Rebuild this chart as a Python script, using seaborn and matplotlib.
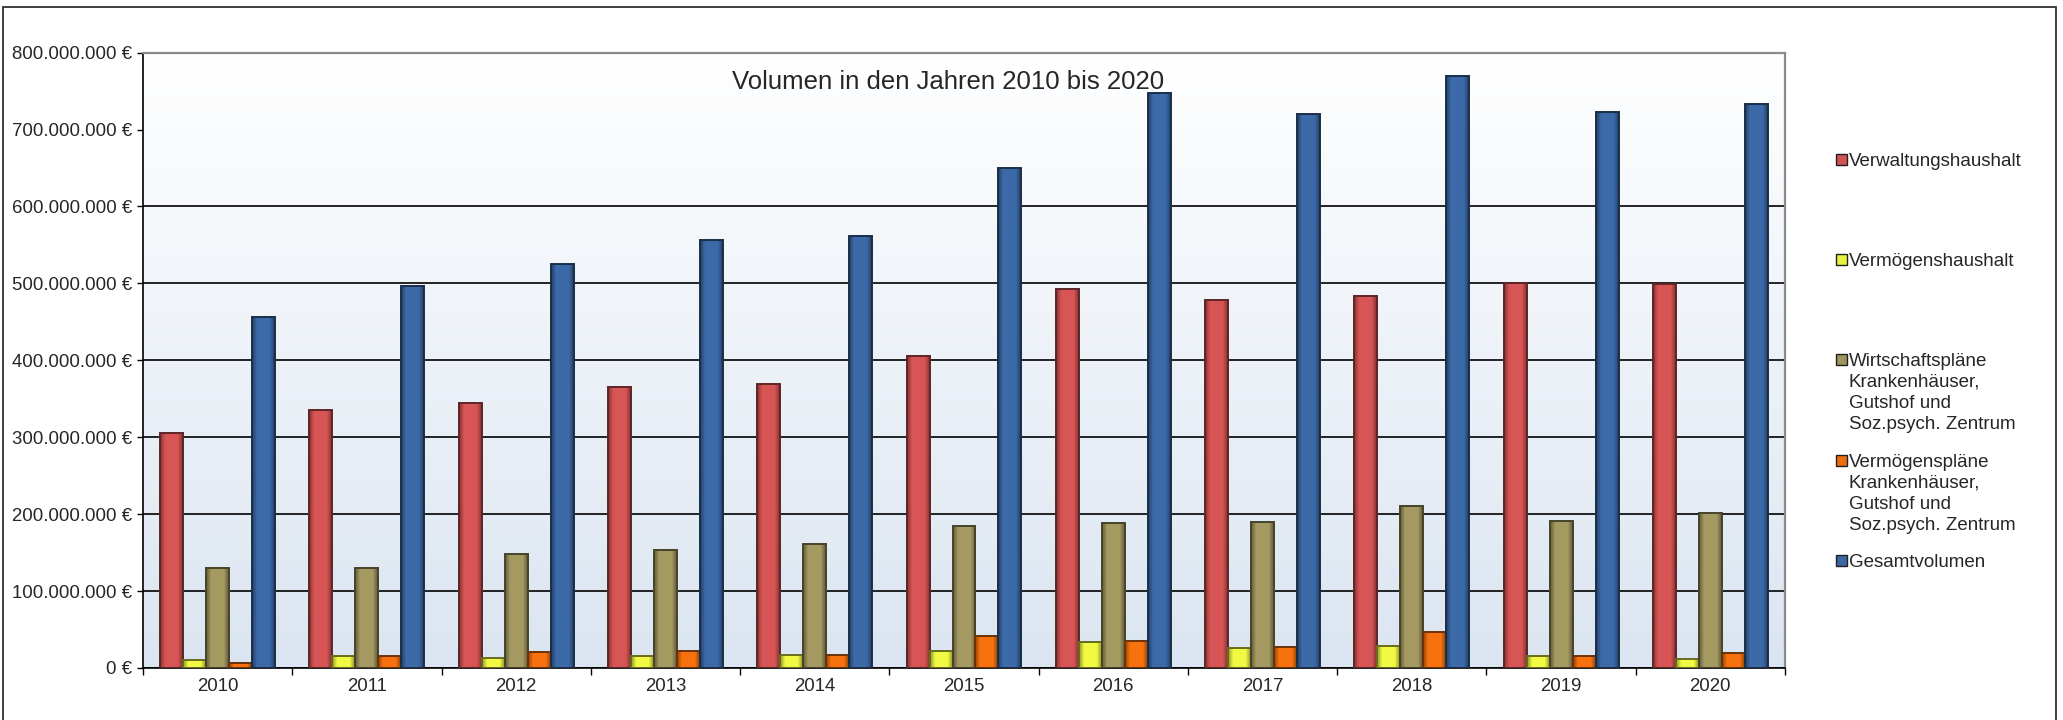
import numpy as np
import pandas as pd
import seaborn as sns
import matplotlib.pyplot as plt
from matplotlib.patches import Rectangle
from matplotlib.ticker import FuncFormatter, MultipleLocator
import matplotlib.colors as mcolors

# ---------------------------------------------------------------
# Daten (Mio. €)
# ---------------------------------------------------------------
jahre = ["2010", "2011", "2012", "2013", "2014", "2015", "2016", "2017", "2018", "2019", "2020"]

verwaltungshaushalt = [306, 336, 344, 365, 369, 405, 493, 478, 484, 501, 499]
vermoegenshaushalt = [11, 16, 13, 16, 17, 22, 34, 26, 29, 16, 12]
wirtschaftsplaene = [130, 130, 148, 153, 161, 184, 188, 190, 210, 191, 202]
vermoegensplaene = [7, 15, 21, 22, 17, 41, 35, 27, 47, 15, 20]
gesamtvolumen = [456, 496, 525, 557, 562, 650, 748, 720, 769, 723, 733]

serien = [
    "Verwaltungshaushalt",
    "Vermögenshaushalt",
    "Wirtschaftspläne\nKrankenhäuser,\nGutshof und\nSoz.psych. Zentrum",
    "Vermögenspläne\nKrankenhäuser,\nGutshof und\nSoz.psych. Zentrum",
    "Gesamtvolumen",
]
farben = ["#d05252", "#e8f040", "#9e945e", "#ee6e0e", "#3a66a2"]

werte = [verwaltungshaushalt, vermoegenshaushalt, wirtschaftsplaene,
         vermoegensplaene, gesamtvolumen]

df = pd.DataFrame({
    "Jahr": np.tile(jahre, len(serien)),
    "Serie": np.repeat(serien, len(jahre)),
    "Volumen": np.concatenate([np.array(w, dtype=float) * 1e6 for w in werte]),
})

# ---------------------------------------------------------------
# Plot
# ---------------------------------------------------------------
sns.set_style("white")
plt.rcParams["font.family"] = ["Liberation Sans", "DejaVu Sans"]

W, H = 2063, 720
fig = plt.figure(figsize=(W / 100, H / 100), dpi=100)
ax = fig.add_axes([143 / W, 1 - 668 / H, (1785 - 143) / W, (668 - 52.6) / H])

# Hintergrund-Verlauf
grad = np.linspace(0, 1, 256).reshape(-1, 1)
cmap = mcolors.LinearSegmentedColormap.from_list("bg", ["#ffffff", "#dbe5f1"])
ax.imshow(grad, cmap=cmap, aspect="auto", extent=[0, 1, 0, 1],
          transform=ax.transAxes, zorder=-10)

sns.barplot(data=df, x="Jahr", y="Volumen", hue="Serie", hue_order=serien,
            palette=farben, width=0.77, gap=0, legend=False, ax=ax,
            saturation=1, zorder=2)

# Balken mit leichtem Relief (dunkle Seiten, helle Mitte)
t = np.linspace(0, 1, 60)
profil = 0.62 + 0.42 * np.clip(np.minimum(t, 1 - t) / 0.22, 0, 1)
for cont, f in zip(ax.containers, farben):
    basis = np.array(mcolors.to_rgb(f))
    dunkel = tuple(basis * 0.45)
    img = np.clip(basis[None, None, :] * profil[None, :, None], 0, 1)
    for bar in cont:
        x0, y0 = bar.get_x(), bar.get_y()
        w, h = bar.get_width(), bar.get_height()
        im = ax.imshow(img, extent=[x0, x0 + w, y0, y0 + h], aspect="auto",
                       zorder=2.5, interpolation="bilinear")
        im.set_clip_path(bar)
        bar.set_facecolor("none")
        bar.set_edgecolor(dunkel)
        bar.set_linewidth(1.4)
        bar.set_zorder(3)

ax.set_xlim(-0.5, len(jahre) - 0.5)
ax.set_ylim(0, 800e6)
ax.yaxis.set_major_locator(MultipleLocator(100e6))
ax.yaxis.set_major_formatter(
    FuncFormatter(lambda v, p: f"{v:,.0f} €".replace(",", ".")))
ax.set_xlabel("")
ax.set_ylabel("")

# Gitternetz
ax.set_axisbelow(True)
ax.yaxis.grid(True, color="black", linewidth=1.2, zorder=0)
for i, gl in enumerate(ax.get_ygridlines()):
    if i in (0, 8):
        gl.set_visible(False)

# Achsen
for s in ["left", "bottom"]:
    ax.spines[s].set_color("black")
    ax.spines[s].set_linewidth(1.2)
for s in ["top", "right"]:
    ax.spines[s].set_color("#8a8a8a")
    ax.spines[s].set_linewidth(1.6)

ax.tick_params(axis="y", labelsize=13.4, length=4.5, width=1, pad=3,
               direction="out", color="black", left=True)
ax.set_xticks(np.arange(-0.5, len(jahre)), minor=True)
ax.tick_params(axis="x", which="major", length=0, labelsize=13.4, pad=7)
ax.tick_params(axis="x", which="minor", length=5, width=1, color="black",
               direction="out", bottom=True)

ax.text(0.49, 0.953, "Volumen in den Jahren 2010 bis 2020", transform=ax.transAxes,
        ha="center", va="center", fontsize=18.5)

# Legende
def fx(x):
    return x / W


def fy(y):
    return 1 - y / H


legende_y = [159, 259, 359, 460, 560]
for label, f, y0 in zip(serien, farben, legende_y):
    fig.patches.append(Rectangle((fx(1836), fy(y0 + 5.5)), 11 / W, 11 / H,
                                 transform=fig.transFigure, facecolor=f,
                                 edgecolor="#202020", linewidth=1))
    for k, zeile in enumerate(label.split("\n")):
        fig.text(fx(1849), fy(y0 + 21 * k + 6.7), zeile, fontsize=13.5,
                 ha="left", va="baseline")

# Rahmen
fig.patches.append(Rectangle((fx(3), -0.05), (2056 - 3) / W, fy(7) + 0.05,
                             transform=fig.transFigure, fill=False,
                             edgecolor="#303030", linewidth=1.3))

fig.savefig("out.png", dpi=100)
